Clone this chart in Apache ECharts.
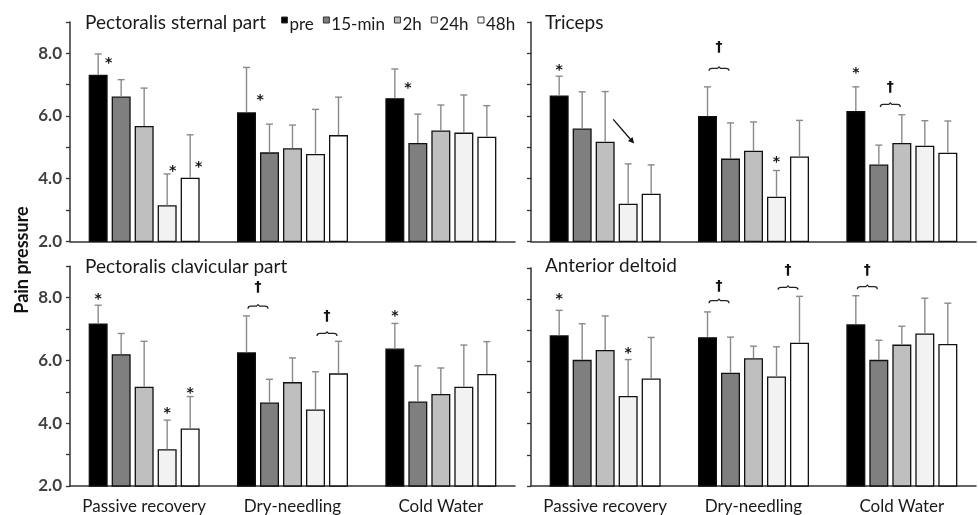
<!DOCTYPE html>
<html><head><meta charset="utf-8">
<script src="https://cdn.jsdelivr.net/npm/echarts@6/dist/echarts.min.js"></script>
<style>html,body{margin:0;padding:0;background:#fff}#c{width:978px;height:515px}</style>
</head><body><div id="c"></div>
<script>
// ---------- data ----------
const categories = ['Passive recovery', 'Dry-needling', 'Cold Water'];
const timepoints = ['pre', '15-min', '2h', '24h', '48h'];
const panelTitles = ['Pectoralis sternal part', 'Triceps', 'Pectoralis clavicular part', 'Anterior deltoid'];
const yAxisTitle = 'Pain pressure';
const yMin = 2, yMax = 9, yStep = 1;

// rows: pre, 15-min, 2h, 24h, 48h ; columns: categories
const sternalMean = [[7.32, 6.12, 6.57], [6.62, 4.84, 5.14], [5.68, 4.97, 5.54], [3.15, 4.79, 5.47], [4.03, 5.39, 5.34]];
const sternalSD   = [[0.66, 1.43, 0.93], [0.54, 0.90, 0.92], [1.21, 0.74, 0.81], [1.00, 1.42, 1.20], [1.37, 1.21, 0.99]];
const tricepsMean = [[6.65, 6.00, 6.16], [5.60, 4.64, 4.45], [5.18, 4.89, 5.14], [3.20, 3.42, 5.05], [3.52, 4.71, 4.83]];
const tricepsSD   = [[0.62, 0.93, 0.77], [1.17, 1.14, 0.62], [1.60, 0.92, 0.90], [1.27, 0.84, 0.80], [0.92, 1.15, 1.01]];
const clavicularMean = [[7.18, 6.26, 6.38], [6.20, 4.66, 4.69], [5.16, 5.31, 4.93], [3.17, 4.44, 5.16], [3.83, 5.59, 5.57]];
const clavicularSD   = [[0.58, 1.16, 0.80], [0.66, 0.74, 1.14], [1.45, 0.77, 0.83], [0.93, 1.20, 1.33], [1.02, 1.02, 1.03]];
const deltoidMean = [[6.84, 6.78, 7.19], [6.05, 5.64, 6.05], [6.37, 6.10, 6.54], [4.89, 5.52, 6.90], [5.45, 6.60, 6.56]];
const deltoidSD   = [[0.80, 0.81, 0.92], [1.16, 1.14, 0.63], [1.09, 0.39, 0.59], [1.17, 0.95, 1.13], [1.32, 1.49, 1.31]];

// significance marks: [panel, category, bar slot, value]
const asterisks = [
  [0, 0, 0.46, 7.76], [0, 1, 0.59, 6.58], [0, 2, 0.57, 6.99], [0, 0, 3.24, 4.34], [0, 0, 4.37, 4.47],
  [1, 0, 0, 7.54], [1, 1, 3, 4.61], [1, 2, 0, 7.46],
  [2, 0, 0, 8.03], [2, 0, 3, 4.40], [2, 0, 4, 5.06], [2, 2, 0, 7.50],
  [3, 0, 0, 8.08], [3, 0, 3, 6.36]
];
// [panel, category, slotA, slotB, bracket value, dagger value]
const daggers = [
  [1, 1, 0, 1, 7.52, 8.18], [1, 2, 1, 2, 6.37, 6.90],
  [2, 1, 0, 1, 7.73, 8.32], [2, 1, 3, 4, 6.86, 7.42],
  [3, 1, 0, 1, 7.95, 8.40], [3, 1, 3, 4, 8.38, 8.91], [3, 2, 0, 1, 8.40, 8.93]
];
// [panel, category, slotFrom, valueFrom, slotTo, valueTo]
const arrows = [[1, 0, 2.35, 5.89, 3.26, 5.12]];

// ---------- styling / layout ----------
const means = [sternalMean, tricepsMean, clavicularMean, deltoidMean];
const sds = [sternalSD, tricepsSD, clavicularSD, deltoidSD];
const colors = ['#000000', '#7f7f7f', '#bfbfbf', '#f2f2f2', '#ffffff'];
const BAR_W = 19, BAR_GAP = 4, STEP = BAR_W + BAR_GAP;
const FONT = 'Lato, "Open Sans", sans-serif';
const MARK_FONT = '"DejaVu Sans", sans-serif';
const grids = [
  {left: 70, top: 22, width: 445, height: 219.3},
  {left: 531, top: 22, width: 445, height: 219.3},
  {left: 70, top: 266.3, width: 445, height: 219.7},
  {left: 531, top: 268, width: 445, height: 219.3}
];
const titlePos = [[85, 13], [545, 13], [85, 257], [545, 256]];

const slotX = (cx, slot) => cx + (slot - 2) * STEP;

function errRender(params, api) {
  const cat = api.value(0), slot = api.value(1), m = api.value(2), top = api.value(3);
  const a = api.coord([cat, m]), b = api.coord([cat, top]);
  const x = slotX(a[0], slot);
  const st = {stroke: '#8a8a8a', lineWidth: 1.4};
  return {type: 'group', children: [
    {type: 'line', shape: {x1: x, y1: a[1], x2: x, y2: b[1]}, style: st},
    {type: 'line', shape: {x1: x - 3.5, y1: b[1], x2: x + 3.5, y2: b[1]}, style: st}
  ]};
}
function starRender(params, api) {
  const p = api.coord([api.value(0), api.value(2)]);
  return {type: 'text', x: slotX(p[0], api.value(1)), y: p[1] + 3,
    style: {text: '*', font: 'bold 14px ' + MARK_FONT, fill: '#111', align: 'center', verticalAlign: 'middle'}};
}
function daggerRender(params, api) {
  const cat = api.value(0), sa = api.value(1), sb = api.value(2);
  const pb = api.coord([cat, api.value(3)]), pd = api.coord([cat, api.value(4)]);
  const xm = (slotX(pb[0], sa) + slotX(pb[0], sb)) / 2;
  const x0 = xm - 10, x1 = xm + 10, y = pb[1];
  const d = `M${x0},${y + 2.5}Q${x0},${y} ${x0 + 3},${y}L${xm - 1.5},${y}L${xm},${y - 1.5}L${xm + 1.5},${y}L${x1 - 3},${y}Q${x1},${y} ${x1},${y + 2.5}`;
  return {type: 'group', children: [
    {type: 'path', shape: {pathData: d}, style: {stroke: '#222', lineWidth: 1.2, fill: null}},
    {type: 'text', x: xm, y: pd[1], style: {text: '\u2020', font: 'bold 14px ' + MARK_FONT, fill: '#111', align: 'center', verticalAlign: 'middle'}}
  ]};
}
function arrowRender(params, api) {
  const cat = api.value(0);
  const p1 = api.coord([cat, api.value(2)]), p2 = api.coord([cat, api.value(4)]);
  const x1 = slotX(p1[0], api.value(1)), y1 = p1[1];
  const x2 = slotX(p2[0], api.value(3)), y2 = p2[1];
  const ang = Math.atan2(y2 - y1, x2 - x1), L = 6, W = 3;
  const bx = x2 - L * Math.cos(ang), by = y2 - L * Math.sin(ang);
  const nx = -Math.sin(ang) * W, ny = Math.cos(ang) * W;
  return {type: 'group', children: [
    {type: 'line', shape: {x1, y1, x2: bx, y2: by}, style: {stroke: '#111', lineWidth: 1.3}},
    {type: 'polygon', shape: {points: [[x2, y2], [bx + nx, by + ny], [bx - nx, by - ny]]}, style: {fill: '#111'}}
  ]};
}

const series = [];
for (let p = 0; p < 4; p++) {
  timepoints.forEach((t, i) => {
    series.push({
      type: 'bar', name: t, xAxisIndex: p, yAxisIndex: p,
      data: means[p][i], barWidth: BAR_W, barGap: (BAR_GAP / BAR_W * 100) + '%',
      itemStyle: {color: colors[i], borderColor: '#111', borderWidth: 1.3},
      emphasis: {disabled: true}, z: 2
    });
  });
  const errData = [];
  timepoints.forEach((t, i) => categories.forEach((c, j) => errData.push([j, i, means[p][i][j], means[p][i][j] + sds[p][i][j]])));
  series.push({type: 'custom', xAxisIndex: p, yAxisIndex: p, renderItem: errRender, data: errData, encode: {x: 0, y: 3}, z: 3, silent: true});
  series.push({type: 'custom', xAxisIndex: p, yAxisIndex: p, renderItem: starRender,
    data: asterisks.filter(a => a[0] === p).map(a => a.slice(1)), encode: {x: 0, y: 2}, z: 4, silent: true});
  series.push({type: 'custom', xAxisIndex: p, yAxisIndex: p, renderItem: daggerRender,
    data: daggers.filter(a => a[0] === p).map(a => a.slice(1)), encode: {x: 0, y: 4}, z: 4, silent: true});
  series.push({type: 'custom', xAxisIndex: p, yAxisIndex: p, renderItem: arrowRender,
    data: arrows.filter(a => a[0] === p).map(a => a.slice(1)), encode: {x: 0, y: 2}, z: 4, silent: true});
}

const option = {
  animation: false,
  backgroundColor: '#fff',
  textStyle: {fontFamily: FONT},
  title: panelTitles.map((t, i) => ({
    text: t, left: titlePos[i][0], top: titlePos[i][1], padding: 0,
    textStyle: {fontFamily: FONT, fontSize: 19, fontWeight: 'normal', color: '#1a1a1a'}
  })),
  legend: {
    data: timepoints, left: 281, top: 16, padding: 0, selectedMode: false,
    icon: 'path://M0,0L6,0L6,6L0,6Z M0,15', itemWidth: 6, itemHeight: 15, itemGap: 9,
    itemStyle: {borderColor: '#333', borderWidth: 1},
    textStyle: {fontFamily: FONT, fontSize: 17, color: '#1a1a1a', padding: [2, 0, 0, -3]}
  },
  graphic: [{type: 'text', x: 22, y: 260, rotation: Math.PI / 2,
    style: {text: yAxisTitle, font: 'bold 18px ' + FONT, fill: '#111', align: 'center', verticalAlign: 'middle'}}],
  grid: grids,
  xAxis: grids.map((g, i) => ({
    type: 'category', gridIndex: i, data: categories,
    axisLine: {lineStyle: {color: '#333', width: 1.5}},
    axisTick: {show: false},
    axisLabel: {show: i >= 2, interval: 0, margin: 12, fontFamily: FONT, fontSize: 17, color: '#1a1a1a'}
  })),
  yAxis: grids.map((g, i) => ({
    type: 'value', gridIndex: i, min: yMin, max: yMax, interval: yStep,
    axisLine: {show: true, lineStyle: {color: '#333', width: 1.5}},
    axisTick: {show: true, length: 4, lineStyle: {color: '#333', width: 1.3}},
    splitLine: {show: false},
    axisLabel: {show: i % 2 === 0, margin: 8, fontFamily: FONT, fontSize: 17, fontWeight: 'bold', color: '#404040',
      formatter: v => (v % 2 === 0 && v < yMax) ? v.toFixed(1) : ''}
  })),
  series
};
const chart = echarts.init(document.getElementById('c'), null, {renderer: 'canvas'});
chart.setOption(option);
</script></body></html>
